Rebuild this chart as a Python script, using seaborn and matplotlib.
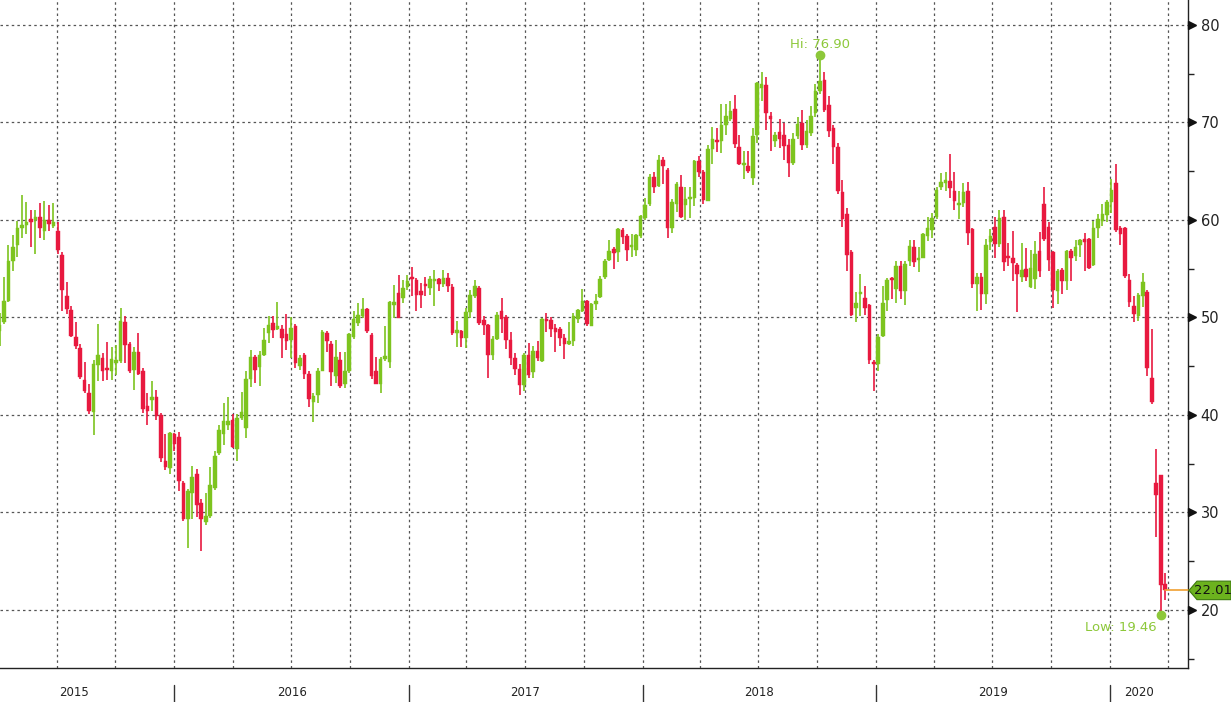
import numpy as np
import pandas as pd
import matplotlib
matplotlib.use("Agg")
import matplotlib.pyplot as plt
import matplotlib.dates as mdates
import matplotlib.transforms as mtransforms
from matplotlib.patches import Polygon
import seaborn as sns

# ---------------- data (weekly OHLC) ----------------
first_week = "2015-04-03"
opens = [48.6, 49.5, 51.7, 55.8, 57.4, 59.2, 59.5, 60.0, 60.0, 60.3, 58.9, 60.0, 59.4, 58.9, 56.4, 52.2, 50.8, 48.0, 46.9, 43.6,
         42.3, 40.3, 45.1, 45.8, 44.8, 44.5, 45.3, 45.5, 49.5, 47.3, 44.6, 46.5, 44.5, 40.9, 41.5, 41.8, 40.0, 35.3, 34.6, 38.1,
         37.7, 33.0, 29.3, 32.0, 33.9, 31.0, 29.0, 29.6, 32.5, 36.1, 38.0, 39.0, 39.5, 36.5, 39.7, 38.7, 43.7, 45.9, 44.9, 46.2,
         48.4, 49.4, 48.8, 48.8, 48.3, 47.7, 49.1, 45.0, 46.1, 44.2, 41.3, 42.0, 44.5, 48.4, 47.3, 44.0, 45.6, 43.2, 44.5, 48.0,
         49.4, 50.1, 50.9, 48.2, 44.5, 43.2, 45.7, 45.4, 51.3, 52.5, 52.0, 53.1, 54.2, 53.8, 52.7, 53.4, 53.0, 53.7, 53.9, 53.4,
         54.0, 53.1, 48.4, 48.6, 47.9, 50.6, 52.2, 53.0, 49.7, 49.2, 46.2, 47.8, 50.7, 50.0, 47.7, 45.8, 44.7, 43.1, 46.2, 44.4,
         46.6, 45.5, 49.8, 49.7, 48.9, 48.8, 47.9, 47.3, 47.6, 49.8, 50.7, 51.7, 49.1, 51.4, 52.1, 54.1, 55.9, 57.0, 56.7, 59.0,
         58.4, 57.2, 56.9, 58.4, 60.2, 61.6, 64.4, 63.5, 66.2, 65.1, 59.2, 61.6, 63.4, 61.5, 62.1, 62.3, 66.0, 64.9, 61.9, 67.3,
         68.2, 68.1, 69.7, 70.4, 71.4, 67.5, 65.6, 65.5, 64.3, 68.7, 73.5, 73.8, 70.5, 68.1, 69.0, 68.7, 67.7, 65.8, 68.6, 69.9,
         67.7, 68.9, 71.0, 73.2, 74.4, 71.8, 69.4, 67.5, 62.9, 60.6, 56.7, 51.0, 52.4, 52.0, 51.3, 45.4, 45.2, 48.1, 51.8, 53.9,
         52.9, 55.3, 52.7, 55.8, 57.2, 55.9, 56.1, 58.4, 59.0, 60.3, 63.4, 63.8, 64.0, 63.0, 61.5, 61.7, 63.0, 59.1, 53.4, 54.2,
         52.4, 57.7, 59.3, 57.5, 60.3, 56.2, 56.1, 55.4, 54.2, 55.0, 53.1, 53.9, 56.8, 61.6, 59.3, 56.7, 52.7, 54.9, 53.7, 56.8,
         56.3, 57.4, 58.0, 58.0, 55.4, 59.2, 59.9, 60.5, 61.8, 63.8, 59.2, 59.2, 53.8, 51.2, 50.1, 52.2, 52.6, 43.8, 33.0, 33.8,
         22.7]
closes = [49.2, 51.7, 55.8, 57.2, 59.2, 59.5, 59.8, 59.8, 60.3, 59.2, 60.0, 59.6, 59.8, 56.9, 52.8, 50.9, 48.1, 47.1, 43.9, 42.5,
          40.4, 45.2, 46.1, 44.5, 44.6, 45.7, 45.6, 49.6, 47.2, 44.5, 46.5, 44.2, 40.6, 40.4, 41.8, 39.9, 35.6, 34.7, 38.2, 37.0,
          33.2, 29.3, 32.2, 33.6, 30.8, 29.3, 29.6, 32.8, 35.8, 38.5, 39.4, 39.4, 36.7, 39.7, 40.3, 43.7, 45.9, 44.6, 46.2, 47.7,
          49.2, 48.7, 49.1, 47.9, 47.6, 48.9, 45.3, 45.8, 44.2, 41.6, 41.9, 44.5, 48.5, 47.6, 44.4, 45.9, 43.0, 44.5, 48.3, 49.8,
          50.3, 50.9, 48.6, 44.0, 43.2, 45.7, 46.0, 51.6, 51.5, 49.9, 53.0, 53.7, 53.9, 52.3, 52.3, 53.2, 53.9, 53.8, 53.4, 54.0,
          53.2, 48.4, 48.7, 47.9, 50.6, 52.3, 53.2, 49.4, 49.2, 46.2, 47.8, 50.3, 49.8, 47.7, 45.8, 44.7, 43.1, 46.1, 44.1, 46.6,
          45.8, 49.8, 49.6, 48.8, 48.5, 47.9, 47.3, 47.5, 50.1, 50.8, 51.7, 49.3, 51.4, 51.5, 53.9, 55.8, 56.8, 56.6, 59.1, 58.3,
          56.9, 57.4, 58.5, 60.4, 61.5, 64.4, 63.4, 66.2, 65.5, 59.2, 61.8, 63.7, 60.3, 62.1, 62.4, 66.0, 64.9, 62.0, 67.3, 68.3,
          68.0, 69.7, 70.7, 71.2, 67.8, 65.7, 65.7, 65.0, 68.6, 74.0, 73.9, 71.0, 70.4, 68.7, 68.3, 67.6, 65.8, 68.3, 69.8, 67.7,
          69.1, 70.7, 73.2, 74.3, 71.3, 69.1, 67.5, 63.0, 60.1, 56.4, 50.3, 51.5, 52.6, 51.0, 45.6, 45.2, 48.0, 51.5, 53.8, 53.8,
          55.3, 52.7, 55.5, 57.3, 55.7, 56.1, 58.6, 59.2, 60.2, 63.1, 63.9, 64.1, 63.3, 61.9, 61.7, 62.9, 58.7, 53.4, 54.1, 52.4,
          57.4, 58.4, 57.5, 60.2, 55.7, 56.1, 55.6, 54.5, 54.9, 54.1, 55.1, 56.5, 54.8, 58.0, 55.9, 52.8, 54.8, 53.7, 56.8, 56.1,
          57.2, 57.9, 57.7, 55.1, 59.2, 60.1, 60.6, 61.8, 63.1, 59.0, 58.6, 54.3, 51.6, 50.4, 52.3, 53.6, 44.8, 41.3, 31.8, 22.6,
          22.01]
highs = [50.5, 54.1, 57.4, 58.5, 59.9, 62.6, 61.8, 61.0, 61.0, 61.7, 61.9, 61.5, 61.7, 59.8, 56.7, 53.6, 51.2, 49.5, 47.3, 45.4,
         43.2, 45.6, 49.3, 46.4, 47.5, 47.0, 47.2, 51.0, 50.1, 47.5, 47.0, 48.4, 44.8, 42.3, 43.5, 42.6, 40.2, 38.0, 38.3, 38.2,
         38.3, 33.2, 32.4, 34.8, 34.5, 31.4, 32.0, 34.7, 36.3, 39.0, 41.2, 41.8, 40.1, 40.1, 42.4, 44.5, 46.7, 46.2, 46.6, 48.9,
         50.2, 50.2, 51.6, 49.2, 50.4, 50.0, 49.3, 46.2, 46.4, 44.5, 42.3, 44.8, 48.7, 48.6, 47.6, 47.7, 46.5, 46.5, 48.4, 50.7,
         51.5, 52.0, 51.0, 48.4, 45.9, 45.9, 49.1, 51.7, 53.3, 54.4, 53.8, 54.4, 55.2, 54.0, 53.5, 54.1, 54.3, 54.9, 54.0, 54.9,
         54.6, 53.4, 49.6, 48.7, 51.0, 52.8, 53.8, 53.2, 50.2, 49.3, 48.1, 50.6, 52.0, 50.3, 48.5, 46.4, 45.2, 46.4, 47.4, 47.1,
         47.6, 49.9, 50.5, 50.0, 49.3, 49.0, 48.3, 49.5, 50.5, 50.9, 52.9, 51.8, 51.5, 52.4, 54.3, 56.0, 57.9, 57.2, 59.2, 59.2,
         58.6, 58.6, 58.6, 60.5, 62.3, 64.7, 64.9, 66.7, 66.5, 65.3, 62.1, 63.9, 64.6, 63.4, 63.4, 66.1, 66.6, 65.1, 67.7, 69.5,
         69.4, 71.9, 71.9, 72.2, 72.8, 68.7, 67.1, 67.1, 69.4, 74.2, 75.2, 74.7, 71.1, 69.0, 70.4, 69.9, 68.3, 68.9, 70.6, 71.3,
         70.3, 71.7, 73.9, 76.90, 75.2, 72.7, 69.7, 67.9, 64.1, 61.2, 56.9, 52.6, 54.5, 53.2, 51.4, 45.6, 48.3, 53.2, 54.0, 54.1,
         55.8, 55.8, 55.8, 57.9, 57.9, 57.2, 58.7, 60.3, 60.7, 63.4, 64.8, 64.9, 66.8, 64.9, 63.0, 63.8, 63.9, 59.2, 54.6, 54.6,
         58.0, 59.1, 60.3, 61.0, 61.0, 57.6, 58.9, 55.6, 57.6, 57.1, 56.9, 57.8, 58.8, 63.4, 59.8, 56.8, 55.0, 55.1, 56.9, 57.0,
         57.9, 58.0, 58.7, 58.1, 59.9, 60.6, 61.6, 62.0, 64.2, 65.7, 59.4, 59.3, 54.5, 52.2, 52.5, 54.6, 52.8, 48.8, 36.5, 33.8,
         23.8]
lows = [47.1, 49.3, 51.6, 54.8, 56.2, 58.2, 58.6, 57.2, 56.5, 58.2, 57.9, 58.9, 59.2, 56.5, 50.7, 50.4, 48.0, 46.8, 43.7, 42.3,
        40.1, 37.9, 43.5, 43.5, 43.6, 43.6, 44.1, 45.3, 45.3, 44.3, 42.6, 44.1, 40.2, 39.0, 40.4, 39.5, 35.2, 34.4, 33.9, 36.3,
        32.2, 29.1, 26.4, 29.3, 29.5, 26.1, 28.7, 29.4, 32.3, 35.9, 36.9, 38.5, 36.6, 35.3, 39.5, 37.6, 42.9, 43.3, 43.0, 46.0,
        47.4, 47.9, 48.7, 45.8, 46.7, 45.8, 44.8, 44.6, 43.7, 40.8, 39.3, 41.2, 44.5, 46.5, 43.0, 43.3, 42.8, 42.8, 44.3, 47.8,
        49.1, 49.9, 48.4, 43.7, 43.2, 42.3, 45.5, 44.8, 49.9, 49.9, 51.5, 52.8, 52.2, 50.7, 51.0, 52.2, 52.3, 51.2, 52.7, 53.1,
        52.6, 48.2, 47.0, 47.0, 46.9, 49.9, 52.0, 49.2, 48.2, 43.8, 45.6, 47.7, 48.4, 46.8, 45.1, 44.1, 42.1, 42.5, 43.8, 43.8,
        45.5, 45.4, 48.5, 48.0, 46.5, 47.1, 45.7, 47.2, 47.1, 49.4, 50.6, 49.1, 49.1, 50.8, 52.0, 53.9, 55.8, 55.0, 55.7, 57.5,
        55.8, 56.2, 56.3, 58.2, 60.0, 61.4, 62.8, 63.4, 63.7, 58.2, 58.7, 60.8, 60.2, 60.0, 60.2, 61.4, 64.4, 61.6, 61.9, 65.7,
        67.0, 66.9, 68.7, 70.2, 67.4, 65.6, 64.2, 64.8, 63.6, 67.9, 72.2, 69.2, 67.1, 67.5, 67.4, 66.2, 64.4, 65.6, 68.3, 67.2,
        67.4, 68.6, 70.6, 72.9, 71.1, 68.5, 65.7, 62.7, 59.3, 54.8, 50.2, 49.5, 50.2, 50.3, 45.2, 42.5, 44.5, 48.0, 50.7, 51.9,
        51.5, 51.9, 51.3, 55.3, 55.2, 54.7, 56.1, 57.8, 58.1, 60.1, 63.1, 63.0, 62.3, 61.0, 60.1, 61.3, 57.4, 53.0, 50.7, 50.8,
        51.4, 56.9, 56.1, 57.2, 54.8, 55.3, 53.7, 50.6, 53.6, 53.7, 53.0, 52.9, 54.1, 57.8, 54.8, 51.0, 51.4, 52.4, 52.8, 53.7,
        55.8, 56.2, 54.8, 55.0, 55.3, 58.1, 59.4, 59.8, 60.7, 58.8, 57.4, 54.0, 51.1, 49.5, 49.6, 51.1, 44.0, 41.1, 27.5, 19.46,
        21.0]

y_ticks = [20, 30, 40, 50, 60, 70, 80]
year_labels = ["2015", "2016", "2017", "2018", "2019", "2020"]
hi_value, low_value, last_value = 76.90, 19.46, 22.01

# ---------------- frame ----------------
dates = pd.date_range(first_week, periods=len(opens), freq="7D")
df = pd.DataFrame({"date": dates, "open": opens, "high": highs, "low": lows, "close": closes})
df["up"] = df["close"] >= df["open"]

GREEN = "#7dc41f"
RED = "#e8193f"
TXT_GREEN = "#8dc83a"

sns.set_style("white")
plt.rcParams["font.family"] = ["DejaVu Sans"]

W, H = 1231, 702
fig = plt.figure(figsize=(W / 100, H / 100), dpi=100)
ax_right_px = 1188
ax_bottom_px = 668
ax = fig.add_axes([0, (H - ax_bottom_px) / H, ax_right_px / W, ax_bottom_px / H])

# y scale
ax.set_ylim(14.05, 82.56)

# x scale : px/day
ppd = 0.6405
left = dates[0] + pd.Timedelta(days=0.5 / ppd)
right = left + pd.Timedelta(days=ax_right_px / ppd)
ax.set_xlim(left, right)

# grid (quarters, every 10)
for q in pd.date_range("2015-04-01", "2020-06-01", freq="QS"):
    ax.axvline(q, color="#555555", lw=0.9, ls=(0, (2, 2.5)), zorder=0)
for yv in y_ticks:
    ax.axhline(yv, color="#555555", lw=0.9, ls=(0, (2, 2.5)), zorder=0)

# candles
colors = np.where(df["up"], GREEN, RED)
ax.vlines(df["date"], df["low"], df["high"], colors=colors, lw=1.2, zorder=2)
body_bottom = np.minimum(df["open"], df["close"])
body_h = np.maximum(np.abs(df["close"] - df["open"]), 0.25)
ax.bar(df["date"], body_h, bottom=body_bottom, width=5.6, color=colors, zorder=3,
       edgecolor=colors, linewidth=0.3)

# spines
for s in ["left", "top"]:
    ax.spines[s].set_visible(False)
ax.spines["right"].set_color("#222222")
ax.spines["bottom"].set_color("#222222")
ax.spines["right"].set_linewidth(1)
ax.spines["bottom"].set_linewidth(1)

# right axis ticks
ax.yaxis.tick_right()
ax.set_yticks(y_ticks)
ax.set_yticklabels([str(v) for v in y_ticks])
ax.set_yticks([15, 25, 35, 45, 55, 65, 75], minor=True)
ax.tick_params(axis="y", which="major", length=0, pad=9, labelsize=10.5, colors="#222222")
ax.tick_params(axis="y", which="minor", length=4, width=1, color="#222222", direction="out")
trans_y = mtransforms.blended_transform_factory(ax.transAxes, ax.transData)
ax.plot([1.0 + 4 / ax_right_px] * len(y_ticks), y_ticks, ls="none", marker=">", ms=5.5,
        color="#111111", transform=trans_y, clip_on=False, zorder=5)

# x axis: monthly minor ticks, year separators, centered year labels
ax.xaxis.set_minor_locator(mdates.MonthLocator())
ax.xaxis.set_major_locator(mdates.YearLocator())
ax.xaxis.set_major_formatter(plt.NullFormatter())
ax.tick_params(axis="x", which="minor", length=4, width=0.8, color="#333333", direction="out")
ax.tick_params(axis="x", which="major", length=0)
trans_x = mtransforms.blended_transform_factory(ax.transData, ax.transAxes)
for yr in range(2016, 2021):
    d = pd.Timestamp(f"{yr}-01-01")
    ax.plot([d, d], [-17 / ax_bottom_px, -34 / ax_bottom_px], color="#333333", lw=1,
            transform=trans_x, clip_on=False)
label_pos = [pd.Timestamp("2015-07-29"), pd.Timestamp("2016-07-02"), pd.Timestamp("2017-07-02"),
             pd.Timestamp("2018-07-02"), pd.Timestamp("2019-07-02"), pd.Timestamp("2020-02-15")]
for lab, d in zip(year_labels, label_pos):
    ax.text(d, -24 / ax_bottom_px, lab, transform=trans_x, ha="center", va="center",
            fontsize=8.5, color="#222222")

# Hi / Low annotations
hi_idx = int(np.argmax(df["high"]))
lo_idx = int(np.argmin(df["low"]))
ax.plot(df["date"][hi_idx], hi_value, "o", color=TXT_GREEN, ms=6, zorder=6)
ax.annotate(f"Hi: {hi_value:.2f}", (df["date"][hi_idx], hi_value), xytext=(0, 7.5),
            textcoords="offset points", ha="center", va="center", color=TXT_GREEN, fontsize=9.5)
ax.plot(df["date"][lo_idx], low_value, "o", color=TXT_GREEN, ms=6, zorder=6)
ax.annotate(f"Low: {low_value:.2f}", (df["date"][lo_idx], low_value), xytext=(-29, -8.5),
            textcoords="offset points", ha="center", va="center", color=TXT_GREEN, fontsize=9.5)

# last value line and tag
ax.plot([df["date"].iloc[-1], right], [last_value, last_value], color="#f0a030", lw=1.2, zorder=4,
        clip_on=False)
x0 = 1.0 + 1 / ax_right_px
x1 = 1.0 + 9 / ax_right_px
x2 = 1.0 + 43 / ax_right_px
hh = 0.95
poly = Polygon([(x0, last_value), (x1, last_value + hh), (x2, last_value + hh),
                (x2, last_value - hh), (x1, last_value - hh)], closed=True,
               transform=trans_y, facecolor="#6cb21e", edgecolor="#3d7a0e", lw=0.8,
               clip_on=False, zorder=6)
ax.add_patch(poly)
ax.text(1.0 + 25 / ax_right_px, last_value, f"{last_value:.2f}", transform=trans_y, ha="center",
        va="center", fontsize=9.5, color="#111111", zorder=7, clip_on=False)

fig.savefig("out.png", dpi=100)
